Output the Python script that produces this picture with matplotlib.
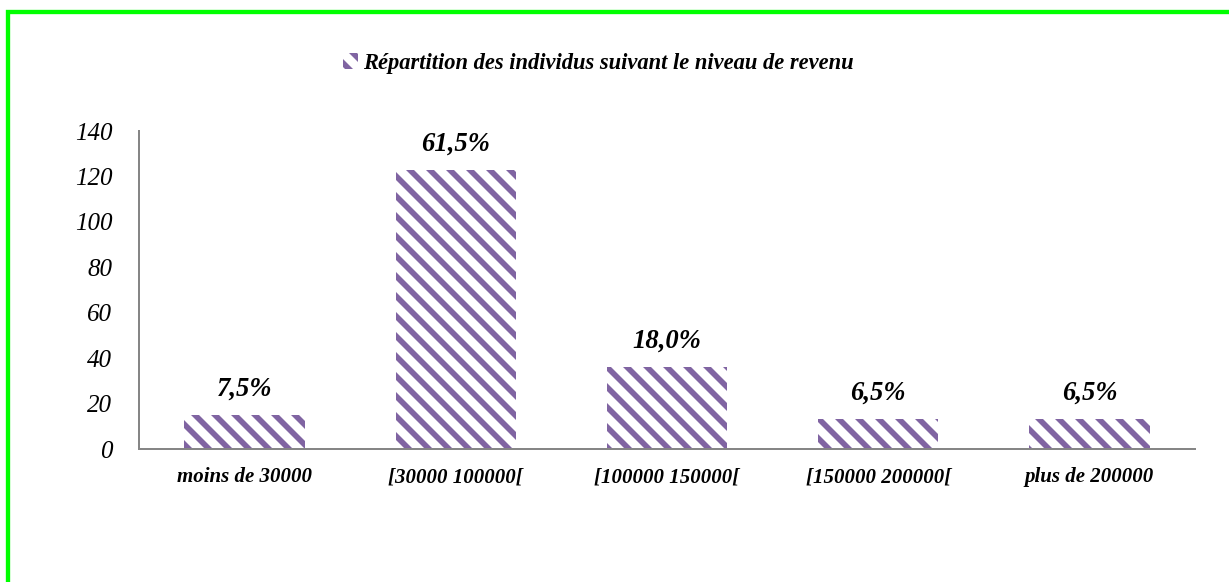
import matplotlib.pyplot as plt
from matplotlib.patches import Rectangle
import numpy as np

categories = ["moins de 30000", "[30000 100000[", "[100000 150000[",
              "[150000 200000[", "plus de 200000"]
counts = [15, 123, 36, 13, 13]
percent_labels = ["7,5%", "61,5%", "18,0%", "6,5%", "6,5%"]
series_name = "Répartition des individus suivant le niveau de revenu"
yticks = [0, 20, 40, 60, 80, 100, 120, 140]

purple = "#8064A2"
axis_gray = "#868686"

plt.rcParams["font.family"] = ["Liberation Serif", "DejaVu Serif"]
plt.rcParams["hatch.linewidth"] = 3.4
plt.rcParams["hatch.color"] = purple

W, H, DPI = 1229, 582, 120
fig = plt.figure(figsize=(W / DPI, H / DPI), dpi=DPI)
ax = fig.add_axes([139 / W, 1 - 449 / H, (1195 - 139) / W, (449 - 131) / H])

x = np.arange(len(categories))
bars = ax.bar(x, counts, width=0.57, color="white", edgecolor=purple,
              linewidth=0, hatch="\\\\", label=series_name)

for xi, c, lab in zip(x, counts, percent_labels):
    ax.annotate(lab, (xi, c), xytext=(0, 8), textcoords="offset points",
                ha="center", va="bottom", fontsize=16,
                fontweight="bold", fontstyle="italic")

ax.set_xlim(-0.5, len(categories) - 0.5)
ax.set_ylim(0, 140)
ax.set_yticks(yticks)
ax.set_yticklabels([str(t) for t in yticks], fontsize=15, fontstyle="italic")
ax.set_xticks(x)
ax.set_xticklabels(categories, fontsize=12.5, fontweight="bold", fontstyle="italic")
ax.tick_params(axis="y", length=0, pad=16)
ax.tick_params(axis="x", length=0, pad=11)

for s in ["top", "right"]:
    ax.spines[s].set_visible(False)
for s in ["left", "bottom"]:
    ax.spines[s].set_color(axis_gray)
    ax.spines[s].set_linewidth(1.2)

fig.legend(handles=[bars], labels=[series_name], loc="center",
           bbox_to_anchor=(598 / W, 1 - 63 / H), frameon=False,
           prop={"size": 13.5, "weight": "bold", "style": "italic"},
           handlelength=0.7, handleheight=0.7, handletextpad=0.2)

# green frame around the chart area
fig.patches.append(Rectangle((8 / W, -0.1), 1.2, 1 - 12 / H + 0.1,
                             transform=fig.transFigure, fill=False,
                             edgecolor="#00FF00", linewidth=2.6))

fig.savefig("out.png", dpi=DPI, facecolor="white")
